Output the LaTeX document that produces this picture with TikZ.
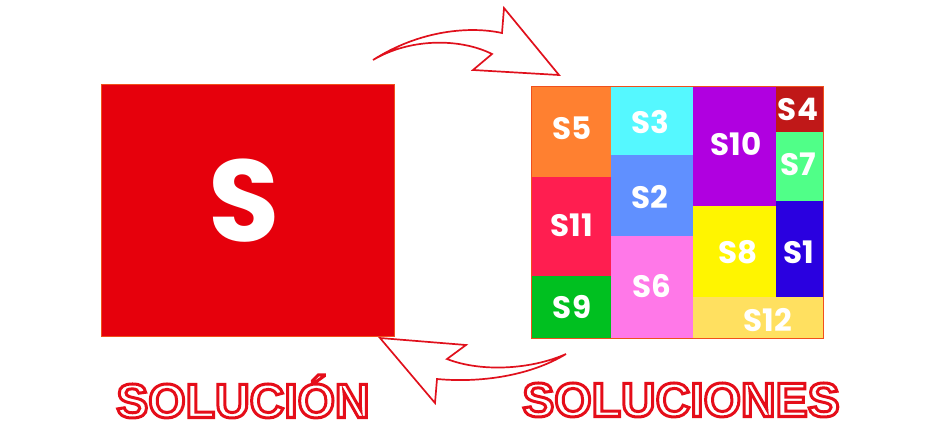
\documentclass[tikz,border=0pt]{standalone}
\usepackage{fontspec}
\newfontfamily\popfont{Poppins}
\newfontfamily\libfont{Liberation Sans}
\newcommand\outlinetext[1]{\special{pdf:literal direct 2 Tr 3 w 0.9 0.05 0.1 RG 1 1 1 rg}#1\special{pdf:literal direct 0 Tr}}
\definecolor{bigred}{HTML}{E6000C}
\definecolor{edgeor}{HTML}{F0501C}
\definecolor{arrred}{HTML}{E0101C}
\definecolor{cS5}{HTML}{FF8030}
\definecolor{cS3}{HTML}{55F8FF}
\definecolor{cS10}{HTML}{B000E0}
\definecolor{cS4}{HTML}{C01818}
\definecolor{cS7}{HTML}{50FF88}
\definecolor{cS11}{HTML}{FF1E50}
\definecolor{cS2}{HTML}{6090FF}
\definecolor{cS8}{HTML}{FFF500}
\definecolor{cS1}{HTML}{2A00E0}
\definecolor{cS9}{HTML}{00C020}
\definecolor{cS6}{HTML}{FF78E8}
\definecolor{cS12}{HTML}{FFE060}
\begin{document}
\begin{tikzpicture}[x=1pt,y=-1pt,
  lbl/.style={text=white,font=\popfont\bfseries\fontsize{31}{31}\selectfont,inner sep=0pt,anchor=center},
  bigtitle/.style={text=white,font=\libfont\bfseries\fontsize{48}{48}\selectfont,inner sep=0pt,anchor=base},
  curvarrow/.style={draw=arrred,line width=1.7pt,fill=white,line join=miter}]
\useasboundingbox (0,0) rectangle (930,447);
% left square
\node[draw=edgeor,line width=1pt,fill=bigred,minimum width=293pt,minimum height=252pt,inner sep=0pt] (sq) at (247.5,210) {};
\node[text=white,font=\popfont\bfseries\fontsize{116}{116}\selectfont,inner sep=0pt,anchor=base] (bigS) at (244,241) {S};
% grid cells
\fill[cS5] (531,86) rectangle (611,177);
\fill[cS11] (531,177) rectangle (611,276);
\fill[cS9] (531,276) rectangle (611,338);
\fill[cS3] (611,86) rectangle (693,155);
\fill[cS2] (611,155) rectangle (693,236);
\fill[cS6] (611,236) rectangle (693,338);
\fill[cS10] (693,86) rectangle (776,206);
\fill[cS8] (693,206) rectangle (776,297);
\fill[cS12] (693,297) rectangle (823,338);
\fill[cS4] (776,86) rectangle (823,132);
\fill[cS7] (776,132) rectangle (823,201);
\fill[cS1] (776,201) rectangle (823,297);
\draw[edgeor,line width=1pt] (531,86) rectangle (823,338);
% labels
\node[lbl] (l5) at (572,128) {S5};
\node[lbl] (l3) at (650.5,122) {S3};
\node[lbl] (l10) at (736,143.7) {S10};
\node[lbl] (l4) at (798,109.7) {S4};
\node[lbl] (l7) at (798.7,164.5) {S7};
\node[lbl] (l11) at (571.7,225.3) {S11};
\node[lbl] (l2) at (649.5,197.5) {S2};
\node[lbl] (l8) at (738.3,252) {S8};
\node[lbl] (l1) at (798.8,251.8) {S1};
\node[lbl] (l9) at (572,307) {S9};
\node[lbl] (l6) at (652.3,286.2) {S6};
\node[lbl] (l12) at (767.5,320.3) {S12};
% arrows
\path[curvarrow] (373,60) .. controls (420,30) and (470,26) .. (502,33)
  -- (504,8) -- (559,75) -- (473,70) -- (492,54)
  .. controls (460,38) and (410,38) .. cycle;
\path[curvarrow] (380,338) -- (466,345) -- (447,359)
  .. controls (480,372) and (530,370) .. (566,354)
  .. controls (530,376) and (480,383) .. (437,379)
  -- (435,403) -- cycle;
% titles
\node[bigtitle] (sol) at (243,417.5) {\outlinetext{SOLUCIÓN}};
\node[bigtitle] (sols) at (681,416.5) {\outlinetext{SOLUCIONES}};
\end{tikzpicture}
\end{document}
